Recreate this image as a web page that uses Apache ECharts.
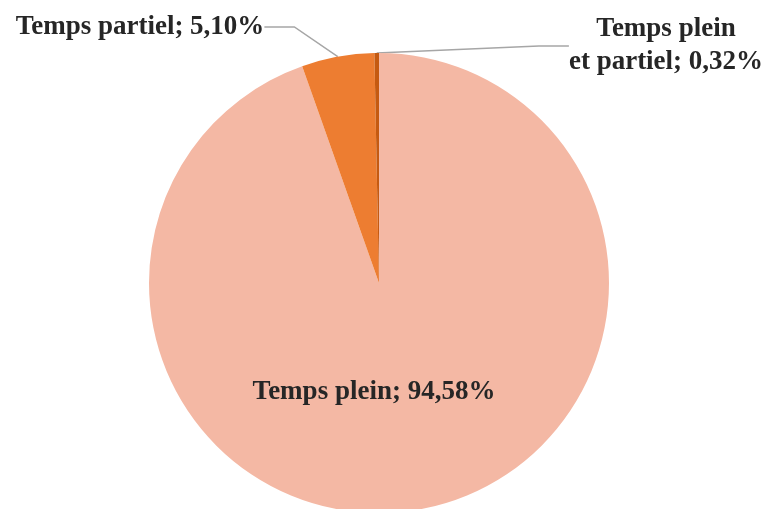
<!DOCTYPE html>
<html>
<head>
<meta charset="utf-8">
<script src="https://cdn.jsdelivr.net/npm/echarts@6/dist/echarts.min.js"></script>
<style>
  html, body { margin: 0; padding: 0; background: #fff; }
  #camembert { width: 765px; height: 509px; }
</style>
</head>
<body>
<div id="camembert"></div>
<script>
// données
var categories = ['Temps plein', 'Temps partiel', 'Temps plein\net partiel'];
var valeurs = [94.58, 5.10, 0.32];
var couleurs = ['#F4B8A4', '#ED7D31', '#C55A11'];

var chart = echarts.init(document.getElementById('camembert'));

var donnees = categories.map(function (c, i) {
    return { name: c, value: valeurs[i], itemStyle: { color: couleurs[i] } };
});

// position des étiquettes (comme dans l'original)
var posEtiquettes = [
    { x: 374, y: 392 },
    { x: 140, y: 27 },
    { x: 666, y: 46 }
];

option = {
    animation: false,
    series: [
        {
            type: 'pie',
            center: [379, 283],
            radius: 230,
            startAngle: 90,
            clockwise: true,
            data: donnees,
            label: {
                show: true,
                formatter: function (p) {
                    return p.name + '; ' + p.value.toFixed(2).replace('.', ',') + '%';
                },
                fontFamily: 'Liberation Serif',
                fontWeight: 'bold',
                fontSize: 27,
                lineHeight: 33,
                overflow: 'none',
                color: '#262626'
            },
            labelLine: {
                show: true,
                lineStyle: { color: '#A6A6A6', width: 1.5 }
            },
            labelLayout: function (params) {
                var p = posEtiquettes[params.dataIndex];
                return { x: p.x, y: p.y, align: 'center', verticalAlign: 'middle' };
            }
        }
    ]
};

chart.setOption(option);
</script>
</body>
</html>
